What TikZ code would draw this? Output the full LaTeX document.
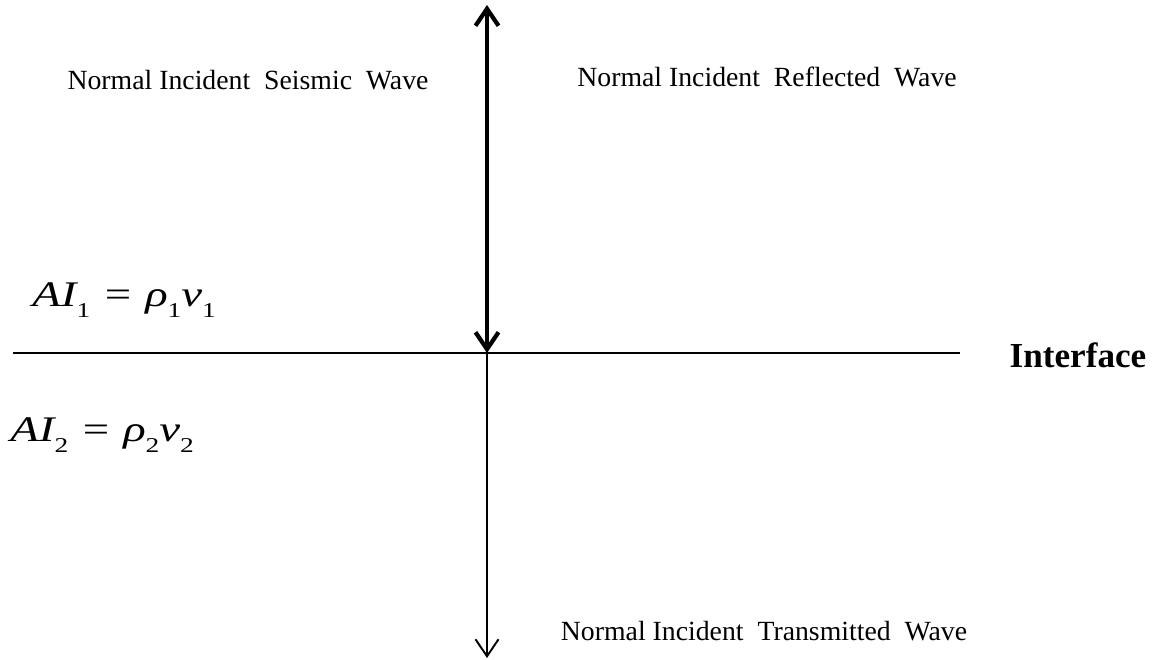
\documentclass[tikz,border=0pt]{standalone}
\usepackage{fontspec}
\setmainfont{Liberation Serif}
\usetikzlibrary{arrows.meta,positioning}
\definecolor{ink}{RGB}{0,0,0}
\newcommand{\lowsub}[1]{\raisebox{-6.5pt}{\fontsize{12}{12}\selectfont\upshape #1}}
\newcommand{\impedance}[1]{\scalebox{1.3}[1]{AI\lowsub{#1} = ρ\lowsub{#1}v\lowsub{#1}}}
\tikzset{
  >={Straight Barb[length=3.4mm,width=4.6mm]},
  wave/.style={font=\fontsize{15.8}{18}\selectfont,text=ink,inner sep=0pt,anchor=base},
  imp/.style={font=\fontsize{20.5}{24}\selectfont\itshape,text=ink,inner sep=0pt,anchor=base west},
  ray/.style={draw=ink,line width=#1},
  ray/.default=1.1pt,
}
\begin{document}
\begin{tikzpicture}[x=0.02cm,y=-0.02cm]
  \useasboundingbox (0,0) rectangle (1158,659);
  % interface and rays
  \coordinate (top) at (487,5);
  \coordinate (hit) at (487,353);
  \coordinate (bottom) at (487,658);
  \coordinate (west) at (13,353);
  \coordinate (east) at (960,353);
  \draw[ray=1.2pt] (west) -- (east);
  \draw[ray=2.4pt,<->] (top) -- (hit);
  \draw[ray,->] (hit) -- (bottom);
  % labels
  \node[wave] (seismic) at (248,89) {Normal Incident\ \ Seismic\ \ Wave};
  \node[wave] (reflected) at (767,86) {Normal Incident\ \ Reflected\ \ Wave};
  \node[wave] (transmitted) at (764,640) {Normal Incident\ \ Transmitted\ \ Wave};
  \node[font=\fontsize{20}{24}\selectfont\bfseries,inner sep=0pt,anchor=base] (iface) at (1078,367) {Interface};
  \node[imp] (ai1) at (32,306) {\impedance{1}};
  \node[imp] (ai2) at (10,441) {\impedance{2}};
\end{tikzpicture}
\end{document}
